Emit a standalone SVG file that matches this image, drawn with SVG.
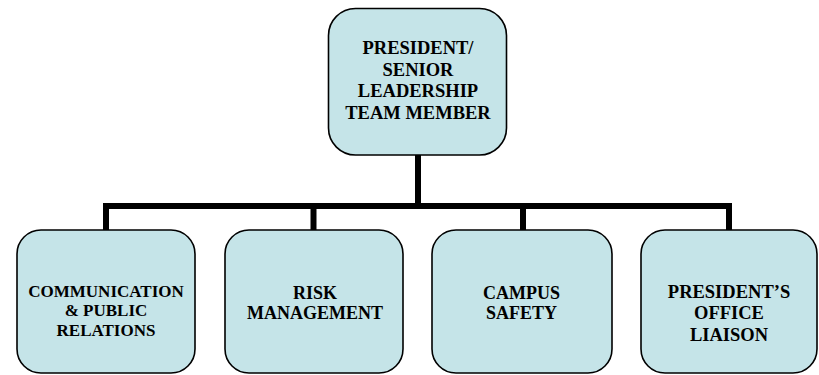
<svg xmlns="http://www.w3.org/2000/svg" width="819" height="375" viewBox="0 0 819 375">
  <style>
    .box { fill: #C5E4E8; stroke: #000000; stroke-width: 1.6; }
    .lbl { font-weight: bold; fill: #000000; text-anchor: middle; }
    .conn { fill: none; stroke: #000000; stroke-width: 6; stroke-linejoin: miter; stroke-linecap: butt; }
  </style>
  <rect width="819" height="375" fill="#FFFFFF"/>
  <g id="connectors">
    <path class="conn" d="M418,155 V206"/>
    <path class="conn" d="M106,230 V206 H729 V230"/>
    <path class="conn" d="M313.5,206 V230"/>
    <path class="conn" d="M523,206 V230"/>
  </g>
  <g font-family="'Liberation Serif', Tinos, 'Times New Roman', serif">
  <g id="president">
    <rect class="box" x="328.5" y="8.5" width="178" height="146.5" rx="27" ry="27"/>
    <text class="lbl" font-size="18.5" x="418" y="54">PRESIDENT/</text>
    <text class="lbl" font-size="18.5" x="418" y="75.7">SENIOR</text>
    <text class="lbl" font-size="18.5" x="418" y="97.3">LEADERSHIP</text>
    <text class="lbl" font-size="18.5" x="418" y="119">TEAM MEMBER</text>
  </g>
  <g id="communication">
    <rect class="box" x="17" y="230" width="178" height="143" rx="24" ry="24"/>
    <text class="lbl" font-size="17" x="106" y="296.7">COMMUNICATION</text>
    <text class="lbl" font-size="17" x="106" y="316.2">&amp; PUBLIC</text>
    <text class="lbl" font-size="17" x="106" y="336">RELATIONS</text>
  </g>
  <g id="risk">
    <rect class="box" x="225" y="230" width="178" height="143" rx="24" ry="24"/>
    <text class="lbl" font-size="18" x="315" y="299">RISK</text>
    <text class="lbl" font-size="18" x="315" y="319">MANAGEMENT</text>
  </g>
  <g id="campus">
    <rect class="box" x="432" y="230" width="180" height="143" rx="24" ry="24"/>
    <text class="lbl" font-size="18" x="521.5" y="299">CAMPUS</text>
    <text class="lbl" font-size="18" x="521.5" y="319">SAFETY</text>
  </g>
  <g id="liaison">
    <rect class="box" x="641" y="230" width="176" height="143" rx="24" ry="24"/>
    <text class="lbl" font-size="18.5" x="729" y="298">PRESIDENT’S</text>
    <text class="lbl" font-size="18.5" x="729" y="319">OFFICE</text>
    <text class="lbl" font-size="18.5" x="729" y="341">LIAISON</text>
  </g>
  </g>
</svg>
